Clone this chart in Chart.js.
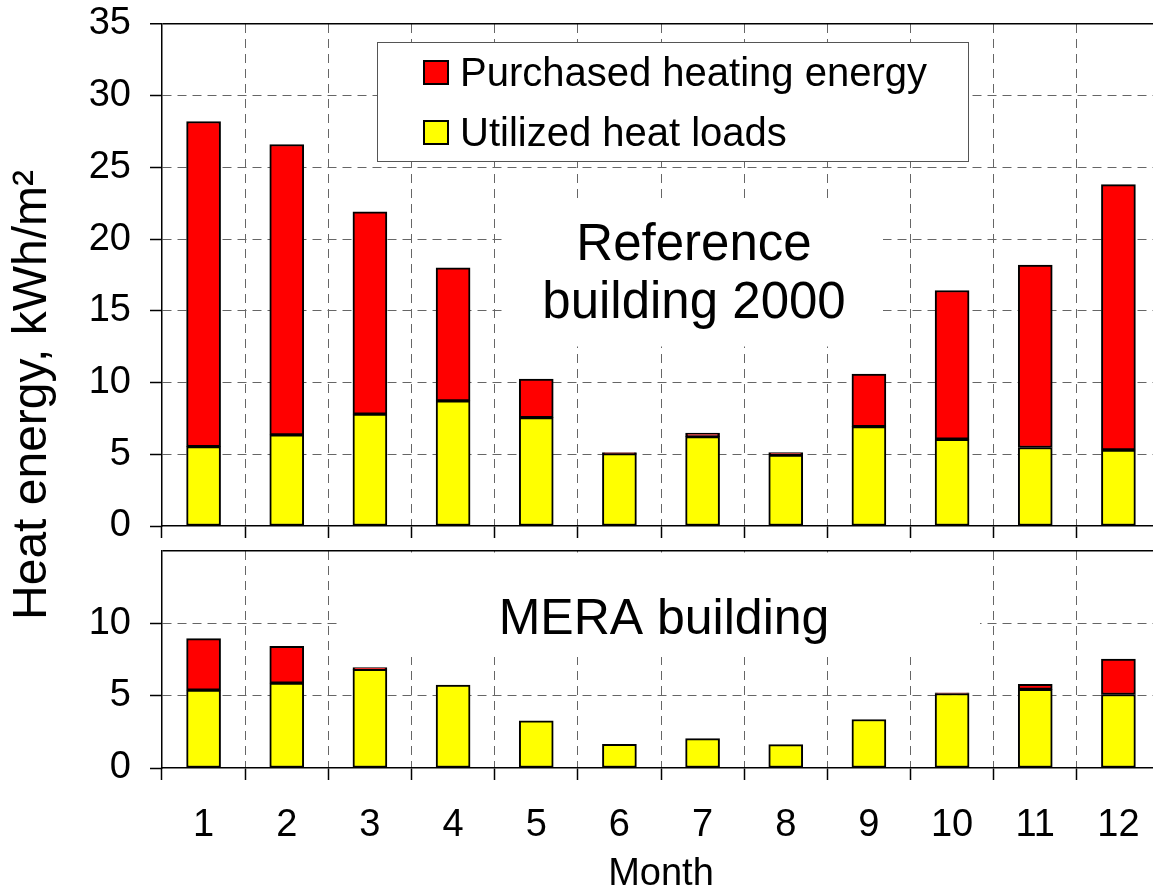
<!DOCTYPE html>
<html lang="en">
<head>
<meta charset="UTF-8">
<title>Heat energy per month</title>
<script src="https://cdn.jsdelivr.net/npm/chart.js"></script>
<style>
  html, body { margin: 0; padding: 0; background: #fff; overflow: hidden; width: 1153px; height: 890px; }
  canvas { position: absolute; left: 0; }
  #topChart { top: 0; }
  #bottomChart { top: 540px; }
  #ytitle {
    position: absolute; left: -270px; top: 371px; width: 600px; height: 48px;
    line-height: 48px; font-size: 48px; font-family: 'Liberation Sans', Arial, sans-serif;
    text-align: center; white-space: nowrap; transform: rotate(-90deg);
  }
</style>
</head>
<body>
<canvas id="topChart" width="1170" height="540"></canvas>
<canvas id="bottomChart" width="1170" height="350"></canvas>
<div id="ytitle">Heat energy, kWh/m²</div>

<script>
// data (kWh/m² per month)
const months = ['1', '2', '3', '4', '5', '6', '7', '8', '9', '10', '11', '12'];
const refUtilized  = [5.53, 6.35, 7.8, 8.72, 7.56, 5.05, 6.23, 4.95, 6.93, 6.05, 5.47, 5.3];
const refPurchased = [22.67, 20.25, 14.1, 9.28, 2.68, 0.07, 0.24, 0.17, 3.67, 10.37, 12.73, 18.5];
const meraUtilized  = [5.38, 5.87, 6.82, 5.73, 3.26, 1.64, 2.03, 1.62, 3.35, 5.15, 5.43, 5.08];
const meraPurchased = [3.56, 2.54, 0.13, 0, 0, 0, 0, 0, 0, 0.05, 0.35, 2.45];
const refMax = 35;
const meraMax = 15;
const tickStep = 5;

const FONT = "'Liberation Sans', Arial, sans-serif";
Chart.defaults.font.family = FONT;
Chart.defaults.color = '#000';

// white boxes behind the panel captions / legend, then the captions themselves
const notesPlugin = {
  id: 'panelNotes',
  beforeDatasetsDraw(chart, args, opts) {
    const a = chart.chartArea, ctx = chart.ctx;
    ctx.save();
    ctx.fillStyle = '#fff';
    (opts.boxes || []).forEach(b => ctx.fillRect(a.left + b[0], a.top + b[1], b[2], b[3]));
    ctx.restore();
  },
  afterDatasetsDraw(chart, args, opts) {
    const a = chart.chartArea, ctx = chart.ctx;
    ctx.save();
    ctx.fillStyle = '#000';
    ctx.textAlign = 'center';
    ctx.textBaseline = 'alphabetic';
    ctx.font = opts.font;
    (opts.lines || []).forEach(l => ctx.fillText(l.text, a.left + l.x, a.top + l.y));
    if (opts.legend) {
      const L = opts.legend;
      const x0 = Math.round(a.left + L.x), y0 = Math.round(a.top + L.y);
      ctx.strokeStyle = '#555';
      ctx.lineWidth = 1;
      ctx.strokeRect(x0 + 0.5, y0 + 0.5, L.w, L.h);
      ctx.font = L.font;
      ctx.textAlign = 'left';
      chart.data.datasets.slice().reverse().forEach((ds, i) => {
        const my = y0 + 18 + i * 60;
        ctx.fillStyle = ds.backgroundColor;
        ctx.fillRect(x0 + 46, my, 26, 25);
        ctx.strokeStyle = '#000';
        ctx.lineWidth = 2;
        ctx.strokeRect(x0 + 47, my + 1, 24, 23);
        ctx.fillStyle = '#000';
        ctx.fillText(ds.label, x0 + 83, y0 + 43.5 + i * 60);
      });
    }
    ctx.restore();
  }
};

function makePanel(id, utilized, purchased, yMax, xHeight, padTop, notes, isBottom) {
  const dash = [9, 6];
  return new Chart(document.getElementById(id), {
    type: 'bar',
    data: {
      labels: months,
      datasets: [{
        label: 'Utilized heat loads',
        data: utilized,
        backgroundColor: '#ffff00',
        borderColor: '#000',
        borderWidth: 2,
        borderSkipped: false,
        barThickness: 34
      }, {
        label: 'Purchased heating energy',
        data: purchased,
        backgroundColor: '#ff0000',
        borderColor: '#000',
        borderWidth: 2,
        borderSkipped: false,
        barThickness: 34
      }]
    },
    options: {
      responsive: false,
      animation: false,
      layout: { padding: { top: padTop, right: 10, left: 0, bottom: 0 } },
      plugins: {
        legend: { display: false },
        tooltip: { enabled: false },
        panelNotes: notes
      },
      scales: {
        x: {
          stacked: true,
          afterFit: s => { s.height = xHeight; s.paddingLeft = 0; s.paddingRight = 0; },
          grid: {
            offset: true,
            color: c => c.index === 0 ? 'rgba(0,0,0,0)' : '#666',
            lineWidth: 1,
            tickLength: 12,
            tickColor: '#000',
            tickWidth: 1.5
          },
          border: { display: true, color: '#000', width: 1.5, dash: dash },
          ticks: {
            autoSkip: false,
            maxRotation: 0,
            padding: 23,
            font: { size: 38 },
            callback: function (v, i) { return isBottom ? months[i] : ''; }
          },
          title: {
            display: isBottom,
            text: 'Month',
            font: { size: 38, lineHeight: 0.8 },
            padding: 0
          }
        },
        y: {
          stacked: true,
          min: 0,
          max: yMax,
          afterFit: s => { s.width = 162; s.paddingTop = 0; s.paddingBottom = 0; },
          grid: {
            color: c => c.tick.value === yMax ? '#000' : (c.tick.value === 0 ? 'rgba(0,0,0,0)' : '#666'),
            lineWidth: c => c.tick.value === yMax ? 1.5 : 1,
            tickLength: 12,
            tickColor: c => (isBottom && c.tick.value === yMax) ? 'rgba(0,0,0,0)' : '#000',
            tickWidth: 1.5
          },
          border: { display: true, color: '#000', width: 1.5, dash: c => (c.tick && c.tick.value === yMax) ? [] : dash },
          ticks: {
            stepSize: tickStep,
            padding: 19,
            font: { size: 38 },
            callback: v => (isBottom && v === yMax) ? '' : v
          }
        }
      }
    },
    plugins: [notesPlugin]
  });
}

makePanel('topChart', refUtilized, refPurchased, refMax, 14, 24, {
  font: '51px ' + FONT,
  boxes: [[215, 18, 591, 119], [343, 176.5, 378, 146]],
  lines: [{ text: 'Reference', x: 532, y: 235.5 }, { text: 'building 2000', x: 532, y: 293.5 }],
  legend: { x: 215, y: 18, w: 591, h: 119, font: '40px ' + FONT }
}, false);

makePanel('bottomChart', meraUtilized, meraPurchased, meraMax, 122, 11, {
  font: '50px ' + FONT,
  boxes: [[178, 1.5, 640, 104.5]],
  lines: [{ text: 'MERA building', x: 502, y: 83 }]
}, true);
</script>
</body>
</html>
